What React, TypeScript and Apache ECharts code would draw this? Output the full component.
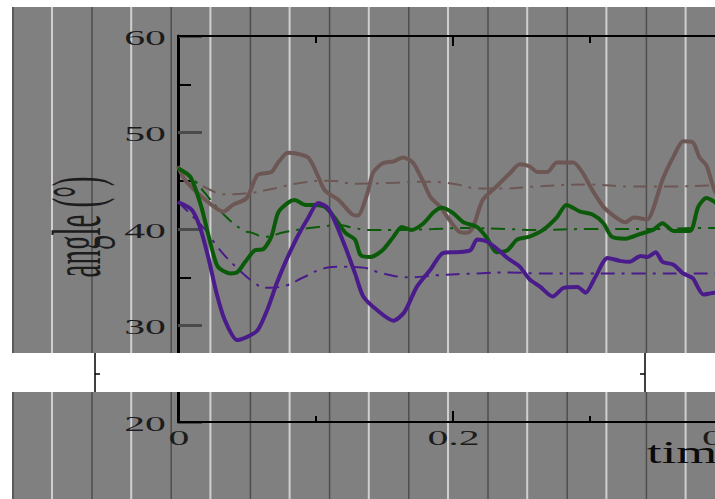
import React, { useEffect, useRef } from "react";
import * as echarts from "echarts";

// ---- data (t in s, angle in degrees) ----
const brownSolid: [number, number][] = [
  [0, 46.5], [0.005, 45.1], [0.02, 43.0], [0.033, 41.8], [0.04, 42.5], [0.05, 43.2],
  [0.058, 45.6], [0.068, 45.9], [0.073, 46.9], [0.08, 47.9], [0.087, 47.8], [0.095, 47.4],
  [0.101, 45.8], [0.107, 44.0], [0.117, 43.0], [0.127, 41.5], [0.131, 41.4], [0.138, 43.7],
  [0.142, 45.8], [0.149, 46.8], [0.157, 47.0], [0.164, 47.4], [0.171, 46.9], [0.178, 45.1],
  [0.184, 43.3], [0.191, 42.3], [0.198, 40.9], [0.205, 39.7], [0.211, 39.6], [0.215, 40.2],
  [0.222, 43.0], [0.232, 44.4], [0.242, 45.8], [0.249, 46.7], [0.256, 46.5], [0.262, 45.9],
  [0.269, 45.9], [0.276, 46.9], [0.288, 46.9], [0.295, 45.8], [0.302, 44.0], [0.31, 42.3],
  [0.32, 41.1], [0.326, 40.7], [0.332, 41.2], [0.342, 41.0], [0.346, 42.0], [0.353, 45.1],
  [0.361, 47.5], [0.368, 49.1], [0.375, 49.0], [0.38, 47.4], [0.385, 46.6], [0.391, 44.0],
  [0.4, 42.0],
];

const greenSolid: [number, number][] = [
  [0, 46.3], [0.009, 45.4], [0.017, 42.3], [0.023, 38.9], [0.029, 36.1], [0.038, 35.4],
  [0.043, 35.5], [0.049, 36.6], [0.056, 37.8], [0.062, 37.9], [0.068, 39.2], [0.073, 41.7],
  [0.08, 42.7], [0.085, 43.0], [0.093, 42.5], [0.1, 42.5], [0.107, 42.3], [0.114, 41.2],
  [0.122, 39.6], [0.129, 38.9], [0.133, 37.3], [0.14, 37.1], [0.149, 37.8], [0.157, 39.2],
  [0.163, 40.2], [0.17, 39.9], [0.179, 40.6], [0.186, 41.7], [0.192, 42.2], [0.2, 41.7],
  [0.208, 40.7], [0.218, 40.2], [0.225, 39.1], [0.232, 37.6], [0.24, 37.8], [0.247, 38.9],
  [0.256, 39.2], [0.266, 39.9], [0.276, 41.2], [0.283, 42.5], [0.293, 41.8], [0.302, 41.5],
  [0.31, 40.6], [0.316, 39.2], [0.326, 39.0], [0.337, 39.5], [0.346, 39.9], [0.353, 40.6],
  [0.361, 39.8], [0.373, 39.8], [0.379, 42.3], [0.385, 43.2], [0.391, 42.8], [0.4, 41.5],
];

const purpleSolid: [number, number][] = [
  [0, 42.8], [0.01, 42.0], [0.016, 40.2], [0.022, 37.1], [0.028, 33.4], [0.034, 30.6],
  [0.043, 28.5], [0.05, 28.8], [0.058, 29.5], [0.065, 31.6], [0.072, 34.4], [0.079, 36.8],
  [0.087, 39.2], [0.095, 41.2], [0.102, 42.7], [0.109, 42.2], [0.114, 40.9], [0.122, 38.1],
  [0.129, 35.4], [0.135, 33.0], [0.145, 31.6], [0.157, 30.5], [0.165, 31.4], [0.174, 34.0],
  [0.184, 35.8], [0.193, 37.5], [0.203, 37.6], [0.213, 37.8], [0.218, 38.9], [0.225, 38.7],
  [0.232, 38.0], [0.24, 37.0], [0.249, 36.1], [0.256, 34.8], [0.264, 34.0], [0.273, 33.0],
  [0.281, 33.9], [0.291, 34.0], [0.297, 33.4], [0.304, 35.0], [0.313, 37.0], [0.322, 36.7],
  [0.329, 36.6], [0.337, 37.2], [0.342, 37.1], [0.348, 37.6], [0.353, 36.6], [0.361, 36.3],
  [0.368, 35.4], [0.375, 34.9], [0.383, 33.2], [0.391, 33.4], [0.4, 33.0],
];

const brownDash: [number, number][] = [
  [0, 46.3], [0.01, 45.2], [0.02, 44.3], [0.035, 43.6], [0.05, 43.7], [0.07, 44.2],
  [0.09, 44.8], [0.11, 45.0], [0.13, 44.7], [0.16, 44.8], [0.18, 44.9], [0.2, 44.7],
  [0.22, 44.2], [0.24, 44.2], [0.26, 44.4], [0.3, 44.6], [0.33, 44.4], [0.36, 44.4],
  [0.39, 44.5], [0.4, 44.5],
];

const greenDash: [number, number][] = [
  [0, 46.2], [0.01, 45.3], [0.018, 44.0], [0.032, 41.7], [0.047, 39.9], [0.054, 39.6],
  [0.063, 39.2], [0.078, 39.7], [0.102, 40.2], [0.119, 40.4], [0.125, 40.2], [0.14, 39.9],
  [0.162, 39.9], [0.186, 40.0], [0.21, 40.1], [0.24, 40.0], [0.26, 39.9], [0.3, 40.0],
  [0.35, 40.0], [0.38, 40.1], [0.4, 40.1],
];

const purpleDash: [number, number][] = [
  [0, 42.8], [0.02, 39.9], [0.029, 38.1], [0.042, 36.1], [0.056, 34.4], [0.064, 33.9],
  [0.08, 34.2], [0.09, 34.9], [0.109, 36.0], [0.116, 36.1], [0.134, 36.0], [0.149, 35.4],
  [0.169, 35.0], [0.188, 35.2], [0.218, 35.4], [0.242, 35.5], [0.26, 35.4], [0.3, 35.4],
  [0.34, 35.4], [0.37, 35.4], [0.4, 35.4],
];

const yTickLabels = [60, 50, 40, 30, 20];
const xTickLabels = [0, 0.2, 0.4];
const yTitle = "angle (°)";
const xTitle = "time";

const BROWN = "#6d5755";
const GREEN = "#0a5a0a";
const PURPLE = "#4a1b8a";
const SERIF = "'Liberation Serif', 'Times New Roman', serif";

export default function App() {
  const ref = useRef<HTMLDivElement>(null);

  useEffect(() => {
    if (!ref.current) return;
    const chart = echarts.init(ref.current, null, { renderer: "svg" });

    const dashPattern = [14, 7, 3, 7];
    const solid = (name: string, data: [number, number][], color: string) => ({
      name,
      type: "line",
      data,
      showSymbol: false,
      smooth: 0.25,
      z: 3,
      lineStyle: { color, width: 4 },
      itemStyle: { color },
    });
    const dashed = (name: string, data: [number, number][], color: string) => ({
      name,
      type: "line",
      data,
      showSymbol: false,
      smooth: 0.5,
      z: 2,
      lineStyle: { color, width: 2, type: dashPattern },
      itemStyle: { color },
    });

    const xCommon = {
      type: "value",
      min: 0,
      max: 0.6,
      interval: 0.2,
      z: 1,
      axisLine: { show: true, onZero: false, lineStyle: { color: "#000", width: 2 } },
      axisTick: { show: true, inside: true, length: 11, lineStyle: { color: "#000", width: 2 } },
      minorTick: { show: true, splitNumber: 2, length: 6, lineStyle: { color: "#000", width: 2 } },
      axisLabel: { show: false },
      splitLine: { show: false },
      minorSplitLine: { show: false },
    };

    chart.setOption({
      animation: false,
      backgroundColor: "#808080",
      grid: { left: 178, top: 36, width: 823.5, height: 386, outerBoundsMode: "none", containLabel: false },
      xAxis: [
        { ...xCommon, position: "bottom" },
        { ...xCommon, position: "top", axisTick: { ...xCommon.axisTick, length: 10 }, minorTick: { ...xCommon.minorTick, length: 7 } },
      ],
      yAxis: {
        type: "value",
        min: 20,
        max: 60,
        interval: 10,
        z: 0,
        axisLine: { show: true, lineStyle: { color: "#000", width: 3 } },
        axisTick: { show: true, inside: true, length: 24, lineStyle: { color: "#4a4a4a", width: 3 } },
        minorTick: { show: true, splitNumber: 2, length: 13, lineStyle: { color: "#000", width: 2 } },
        axisLabel: { show: false },
        splitLine: { show: false },
      },
      series: [
        dashed("brown mean", brownDash, BROWN),
        dashed("green mean", greenDash, GREEN),
        dashed("purple mean", purpleDash, PURPLE),
        solid("brown", brownSolid, BROWN),
        solid("green", greenSolid, GREEN),
        solid("purple", purpleSolid, PURPLE),
      ],
    });

    const px = (v: number) => chart.convertToPixel({ xAxisIndex: 0 }, v) as number;
    const py = (v: number) => chart.convertToPixel({ yAxisIndex: 0 }, v) as number;
    const x0 = px(0);
    const yBottom = py(20);

    const elements: any[] = [];
    // scanned-page vertical stripes
    const W = 715, H = 499;
    const stripeStep = 79.2;
    elements.push({ type: "line", z: -1, silent: true, shape: { x1: 13, y1: 0, x2: 13, y2: H }, style: { stroke: "#4e4e4e", lineWidth: 1.5 } });
    for (let i = 0; i < 9; i++) {
      const xw = 52 + i * stripeStep;
      elements.push({ type: "line", z: -1, silent: true, shape: { x1: xw, y1: 0, x2: xw, y2: H }, style: { stroke: "#cfcfcf", lineWidth: 2 } });
      const xd = 92 + i * stripeStep;
      if (xd < W) elements.push({ type: "line", z: -1, silent: true, shape: { x1: xd, y1: 0, x2: xd, y2: H }, style: { stroke: "#4e4e4e", lineWidth: 1.5 } });
    }
    // white margins and band
    elements.push({ type: "rect", z: 100, silent: true, shape: { x: 0, y: 0, width: W, height: 7 }, style: { fill: "#fff" } });
    elements.push({ type: "rect", z: 100, silent: true, shape: { x: 0, y: 0, width: 12, height: H }, style: { fill: "#fff" } });
    elements.push({ type: "rect", z: 100, silent: true, shape: { x: 12, y: 353, width: W - 12, height: 39 }, style: { fill: "#fff" } });
    elements.push({ type: "line", z: 101, silent: true, shape: { x1: 95, y1: 353, x2: 95, y2: 392 }, style: { stroke: "#000", lineWidth: 1.5 } });
    elements.push({ type: "line", z: 101, silent: true, shape: { x1: 95, y1: 374, x2: 100, y2: 374 }, style: { stroke: "#000", lineWidth: 1.5 } });
    elements.push({ type: "line", z: 101, silent: true, shape: { x1: 645, y1: 353, x2: 645, y2: 392 }, style: { stroke: "#000", lineWidth: 1.5 } });
    elements.push({ type: "line", z: 101, silent: true, shape: { x1: 640, y1: 374, x2: 645, y2: 374 }, style: { stroke: "#000", lineWidth: 1.5 } });

    // stretched tick labels
    yTickLabels.forEach((v) => {
      elements.push({
        type: "text", z: 50, silent: true, x: x0 - 12, y: py(v) + 1, scaleX: 1.9,
        style: { text: String(v), font: `22px ${SERIF}`, fill: "#1c1c1c", textAlign: "right", textVerticalAlign: "middle", verticalAlign: "middle" },
      });
    });
    xTickLabels.forEach((v) => {
      elements.push({
        type: "text", z: 50, silent: true, x: px(v) + 1, y: yBottom + 15, scaleX: 1.9,
        style: { text: String(v), font: `22px ${SERIF}`, fill: "#1c1c1c", textAlign: "center", textVerticalAlign: "middle", verticalAlign: "middle" },
      });
    });
    // axis titles: rotated text, stretched horizontally on screen
    elements.push({
      type: "text", z: 50, silent: true, x: 77, y: 227, rotation: Math.PI / 2, scaleX: 1, scaleY: 2.4,
      style: { text: yTitle, font: `29px ${SERIF}`, fill: "#1c1c1c", textAlign: "center", textVerticalAlign: "middle", verticalAlign: "middle" },
    });
    elements.push({
      type: "text", z: 50, silent: true, x: 647, y: 468, scaleX: 1.7,
      style: { text: xTitle, font: `31px ${SERIF}`, fill: "#0a0a0a", textAlign: "left", textVerticalAlign: "bottom", verticalAlign: "bottom" },
    });

    chart.setOption({ graphic: { elements } });

    return () => chart.dispose();
  }, []);

  return (
    <div
      ref={ref}
      style={{ position: "fixed", left: 0, top: 0, width: 715, height: 499 }}
    />
  );
}
